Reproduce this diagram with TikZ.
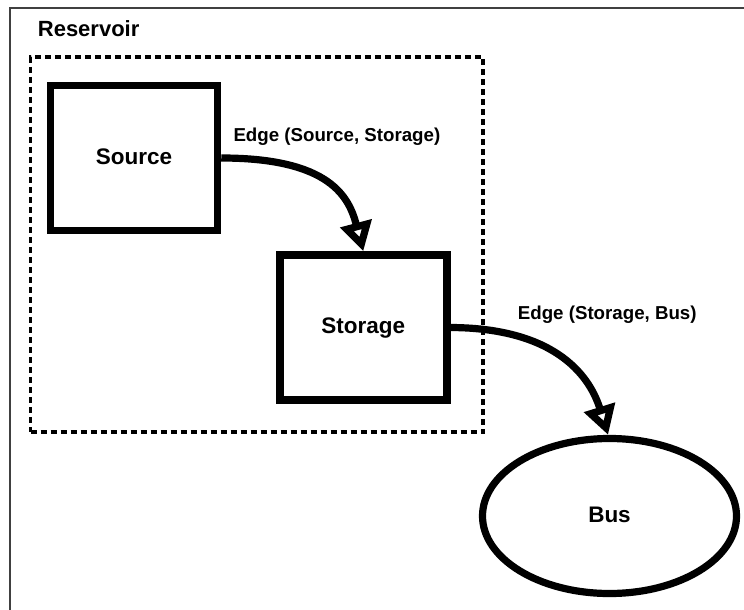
\documentclass[tikz,border=0pt]{standalone}
\usepackage{fontspec}
\setmainfont{Liberation Sans}
\usetikzlibrary{arrows.meta,shapes.geometric}

\tikzset{
  block/.style={draw, line width=7.5pt, rectangle, minimum width=167pt, minimum height=145pt,
    inner sep=0pt, text height=16pt, text depth=4pt,
    font=\bfseries\fontsize{22.5}{27}\selectfont},
  busnode/.style={draw, line width=7.2pt, ellipse, minimum width=254pt, minimum height=155pt,
    inner sep=0pt, text height=16pt, text depth=4pt,
    font=\bfseries\fontsize{22.5}{27}\selectfont},
  group/.style={draw, line width=3.8pt, dash pattern=on 6pt off 4pt, rectangle,
    minimum width=452.5pt, minimum height=375pt, inner sep=0pt},
  grouptitle/.style={anchor=base west, inner sep=0pt, font=\bfseries\fontsize{22}{26}\selectfont},
  edgelabel/.style={anchor=base west, inner sep=0pt, font=\bfseries\fontsize{18.7}{22}\selectfont},
  flow/.style={line width=7.2pt, -{Triangle[open, length=29pt, width=31pt]}},
  frame/.style={draw=black!75, line width=1.8pt}
}

\begin{document}
\begin{tikzpicture}[x=1pt, y={(0pt,-1pt)}]
  \useasboundingbox (0,0) rectangle (744,610);

  % page frame (top and left edges)
  \coordinate (frameTR) at (744,7.8);
  \coordinate (frameTL) at (10.3,7.8);
  \coordinate (frameBL) at (10.3,610);
  \draw[frame] (frameTR) -- (frameTL) -- (frameBL);

  % reservoir group
  \node[group] (reservoir) at (256.75,244.5) {};
  \node[grouptitle] (reservoirtitle) at (37.7,36.7) {Reservoir};

  % components
  \node[block] (source) at (134,158) {Source};
  \node[block] (storage) at (363.3,327.5) {Storage};
  \node[busnode] (bus) at (609.5,516) {Bus};

  % edge labels
  \node[edgelabel] (lab1) at (233.3,141.7) {Edge (Source, Storage)};
  \node[edgelabel] (lab2) at (517.7,319.3) {Edge (Storage, Bus)};

  % edges
  \draw[flow] (source.east) .. controls (330,158) and (349,197) .. (storage.north);
  \draw[flow] (storage.east) .. controls (560,328) and (591,380) .. (bus.91);
\end{tikzpicture}
\end{document}
